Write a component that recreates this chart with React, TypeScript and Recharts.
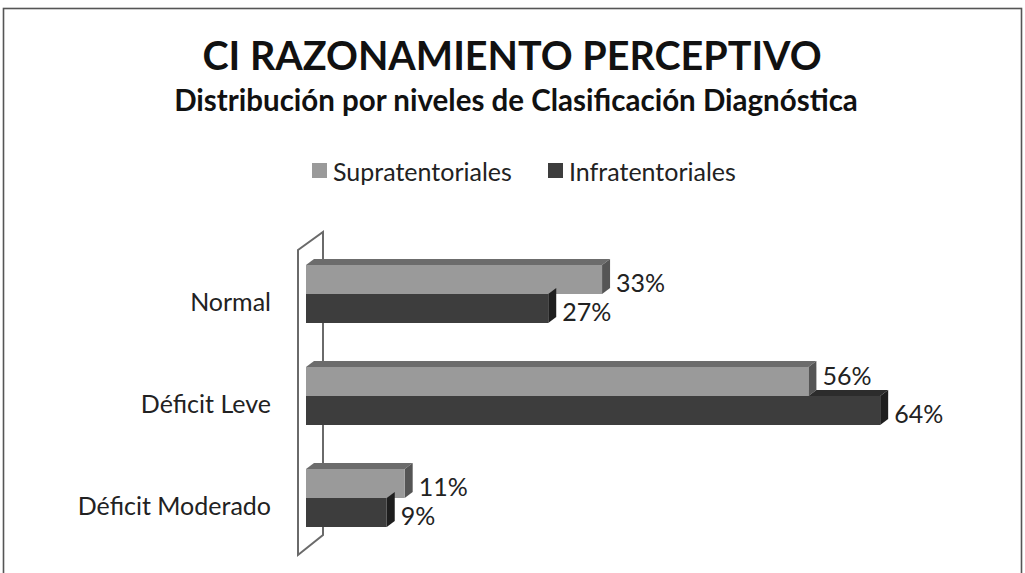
import React from 'react';
import { BarChart, Bar, XAxis, YAxis, LabelList } from 'recharts';

const categories = ['Normal', 'Déficit Leve', 'Déficit Moderado'];
const supratentoriales = [33, 56, 11];
const infratentoriales = [27, 64, 9];
const seriesNames = ['Supratentoriales', 'Infratentoriales'];
const titleText = 'CI RAZONAMIENTO PERCEPTIVO';
const subtitleText = 'Distribución por niveles de Clasificación Diagnóstica';

const data = categories.map((c, i) => ({
  name: c,
  supra: supratentoriales[i],
  infra: infratentoriales[i],
}));

const FONT = 'Lato, "Open Sans", sans-serif';
const DX = 8;
const DY = 6;

const COLORS = {
  supra: { front: '#9a9a9a', top: '#6c6c6c', side: '#555555' },
  infra: { front: '#3d3d3d', top: '#2c2c2c', side: '#1e1e1e' },
};

const SupraShape = (props: any) => {
  const { x, y, width, height } = props;
  const c = COLORS.supra;
  return (
    <g>
      <polygon
        points={`${x},${y} ${x + DX},${y - DY} ${x + width + DX},${y - DY} ${x + width},${y}`}
        fill={c.top}
      />
      <polygon
        points={`${x + width},${y} ${x + width + DX},${y - DY} ${x + width + DX},${y + height - DY} ${x + width},${y + height}`}
        fill={c.side}
      />
      <rect x={x} y={y} width={width} height={height} fill={c.front} />
    </g>
  );
};

const InfraShape = (props: any) => {
  const { x, y, width, height, payload } = props;
  const c = COLORS.infra;
  const perUnit = payload && payload.infra ? width / payload.infra : 0;
  const supraEnd = x + (payload ? payload.supra : 0) * perUnit;
  const xe = x + width;
  const x0 = Math.max(x, supraEnd);
  return (
    <g>
      {x0 < xe && (
        <polygon
          points={`${x0},${y} ${x0 + DX},${y - DY} ${xe + DX},${y - DY} ${xe},${y}`}
          fill={c.top}
        />
      )}
      <polygon
        points={`${xe},${y} ${xe + DX},${y - DY} ${xe + DX},${y + height - DY} ${xe},${y + height}`}
        fill={c.side}
      />
      <rect x={x} y={y} width={width} height={height} fill={c.front} />
    </g>
  );
};

const makeValueLabel = (isSupra: boolean) => (props: any) => {
  const { x, y, width, height, value, index } = props;
  let shift = 2;
  if (isSupra && typeof index === 'number' && infratentoriales[index] > supratentoriales[index]) {
    shift = -7;
  }
  return (
    <text
      x={x + width + DX + 6}
      y={y + height / 2 + shift}
      dominantBaseline="central"
      fontFamily={FONT}
      fontSize={25}
      fill="#222"
    >
      {`${value}%`}
    </text>
  );
};

const SupraLabel = makeValueLabel(true);
const InfraLabel = makeValueLabel(false);

const CategoryTick = (props: any) => {
  const { y, payload } = props;
  return (
    <text
      x={271}
      y={y + 7}
      textAnchor="end"
      dominantBaseline="central"
      fontFamily={FONT}
      fontSize={25}
      fill="#222"
    >
      {payload.value}
    </text>
  );
};

const legendItems = [
  { label: seriesNames[0], color: COLORS.supra.front, sx: 312, tx: 333 },
  { label: seriesNames[1], color: COLORS.infra.front, sx: 548, tx: 569 },
];

export default function App() {
  return (
    <div style={{ position: 'absolute', left: 0, top: 0, width: 1025, height: 573, background: '#fff', overflow: 'hidden' }}>
      <svg width={1025} height={573} style={{ position: 'absolute', left: 0, top: 0 }}>
        <rect x={3.5} y={8.5} width={1018} height={600} fill="none" stroke="#555" strokeWidth={1.6} />
        <text x={512} y={70} textAnchor="middle" fontFamily={FONT} fontWeight={700} fontSize={39.5} fill="#111">
          {titleText}
        </text>
        <text x={516} y={111} textAnchor="middle" fontFamily={FONT} fontWeight={700} fontSize={29.5} fill="#111">
          {subtitleText}
        </text>
        {legendItems.map((it) => (
          <g key={it.label}>
            <rect x={it.sx} y={163} width={15} height={15} fill={it.color} />
            <text x={it.tx} y={171} dominantBaseline="central" fontFamily={FONT} fontSize={25} fill="#222">
              {it.label}
            </text>
          </g>
        ))}
        <polygon points="298,250 323,232 323,535 298,555" fill="none" stroke="#6a6a6a" strokeWidth={2} />
      </svg>
      <div style={{ position: 'absolute', left: 0, top: 0 }}>
        <BarChart
          width={1025}
          height={573}
          data={data}
          layout="vertical"
          margin={{ top: 243, right: 91, bottom: 24, left: 0 }}
          barSize={29}
          barGap={0}
        >
          <XAxis type="number" domain={[0, 70]} hide />
          <YAxis
            type="category"
            dataKey="name"
            width={306}
            axisLine={false}
            tickLine={false}
            tick={<CategoryTick />}
          />
          <Bar dataKey="supra" name={seriesNames[0]} fill={COLORS.supra.front} shape={<SupraShape />} isAnimationActive={false}>
            <LabelList dataKey="supra" content={<SupraLabel />} />
          </Bar>
          <Bar dataKey="infra" name={seriesNames[1]} fill={COLORS.infra.front} shape={<InfraShape />} isAnimationActive={false}>
            <LabelList dataKey="infra" content={<InfraLabel />} />
          </Bar>
        </BarChart>
      </div>
    </div>
  );
}
